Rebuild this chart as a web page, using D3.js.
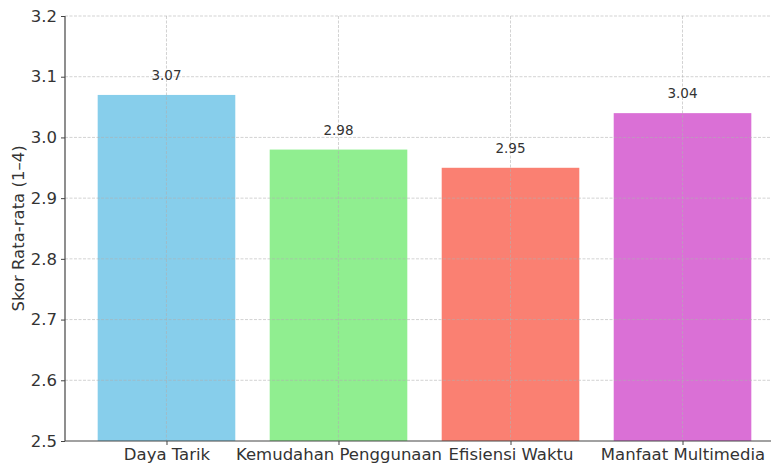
<!DOCTYPE html>
<html>
<head>
<meta charset="utf-8">
<script src="https://cdn.jsdelivr.net/npm/d3@7"></script>
<style>
  body { margin: 0; background: #fff; }
  svg { font-family: "DejaVu Sans", sans-serif; }
</style>
</head>
<body>
<svg id="chart" width="771" height="463"></svg>
<script>
var categories = ["Daya Tarik", "Kemudahan Penggunaan", "Efisiensi Waktu", "Manfaat Multimedia"];
var scores = [3.07, 2.98, 2.95, 3.04];
var colors = ["#87ceeb", "#90ee90", "#fa8072", "#da70d6"];
var yTicks = [2.5, 2.6, 2.7, 2.8, 2.9, 3.0, 3.1, 3.2];

var svg = d3.select("#chart");
var plotLeft = 65, plotTop = 16, plotBottom = 441, plotRight = 784;

var x = d3.scaleLinear()
  .domain([-0.59, categories.length - 1 + 0.59])
  .range([plotLeft, plotRight]);

var y = d3.scaleLinear()
  .domain([2.5, 3.2])
  .range([plotBottom, plotTop]);

var barW = x(0.8) - x(0);

// bars
svg.append("g")
  .selectAll("rect")
  .data(scores)
  .join("rect")
    .attr("x", function(d, i) { return x(i) - barW / 2; })
    .attr("y", function(d) { return y(d); })
    .attr("width", barW)
    .attr("height", function(d) { return y(2.5) - y(d); })
    .attr("fill", function(d, i) { return colors[i]; });

// grid on top of bars
var grid = svg.append("g")
  .attr("stroke", "#b0b0b0")
  .attr("stroke-opacity", 0.7)
  .attr("stroke-width", 0.8)
  .attr("stroke-dasharray", "3,1.5");

grid.selectAll(".hg")
  .data(yTicks.slice(1))
  .join("line")
    .attr("x1", plotLeft).attr("x2", plotRight)
    .attr("y1", function(d) { return y(d); })
    .attr("y2", function(d) { return y(d); });

grid.selectAll(".vg")
  .data(categories)
  .join("line")
    .attr("x1", function(d, i) { return x(i); })
    .attr("x2", function(d, i) { return x(i); })
    .attr("y1", plotTop).attr("y2", plotBottom);

// value labels
svg.append("g")
  .selectAll("text")
  .data(scores)
  .join("text")
    .attr("x", function(d, i) { return x(i); })
    .attr("y", function(d) { return y(d) - 15; })
    .attr("text-anchor", "middle")
    .attr("font-size", 13.5)
    .attr("fill", "#333")
    .text(function(d) { return d.toFixed(2); });

// axes
var yAxis = d3.axisLeft(y)
  .tickValues(yTicks)
  .tickFormat(d3.format(".1f"))
  .tickSize(4)
  .tickPadding(4);

var xAxis = d3.axisBottom(x)
  .tickValues(d3.range(categories.length))
  .tickFormat(function(i) { return categories[i]; })
  .tickSize(4)
  .tickPadding(3);

var gy = svg.append("g")
  .attr("transform", "translate(" + plotLeft + ",0)")
  .call(yAxis);
gy.select(".domain").attr("d", "M0," + plotTop + "V" + plotBottom);

var gx = svg.append("g")
  .attr("transform", "translate(0," + plotBottom + ")")
  .call(xAxis);
gx.select(".domain").attr("d", "M" + plotLeft + ",0H" + plotRight);

[gy, gx].forEach(function(g) {
  g.selectAll(".domain").attr("stroke", "#444").attr("stroke-width", 1.2);
  g.selectAll(".tick line").attr("stroke", "#444");
  g.selectAll(".tick text")
    .attr("font-size", 16.5)
    .attr("font-family", "DejaVu Sans, sans-serif")
    .attr("fill", "#333");
});

svg.append("text")
  .attr("transform", "translate(24," + ((plotTop + plotBottom) / 2) + ") rotate(-90)")
  .attr("text-anchor", "middle")
  .attr("font-size", 16.5)
  .attr("fill", "#333")
  .text("Skor Rata-rata (1\u20134)");
</script>
</body>
</html>
